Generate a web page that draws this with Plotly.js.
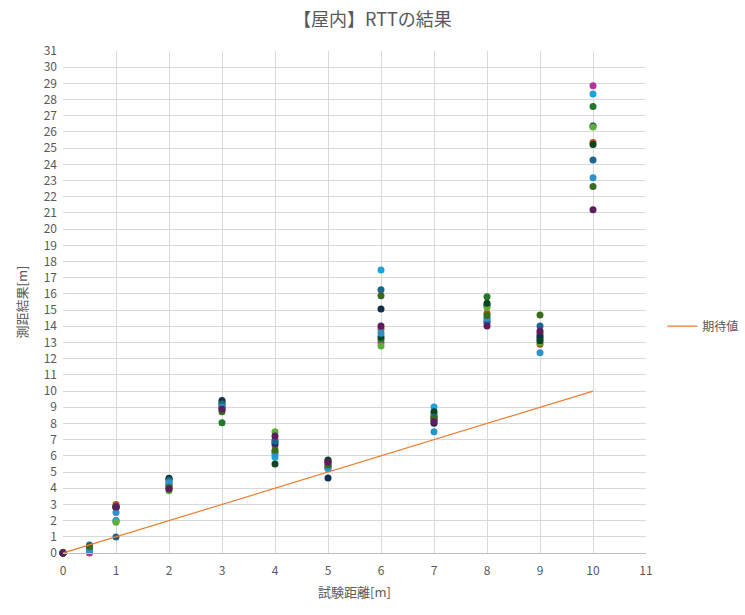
<!DOCTYPE html>
<html>
<head>
<meta charset="utf-8">
<script src="https://cdn.plot.ly/plotly-3.0.1.min.js"></script>
<style>html,body{margin:0;padding:0;background:#fff;}</style>
</head>
<body>
<div id="chart" style="width:745px;height:615px;"></div>
<script>
// Test distances [m]
const distances = [0, 0.5, 1, 2, 3, 4, 5, 6, 7, 8, 9, 10];

// Measured results per trial [m]
const trial01 = [0.00, 0.00, 3.00, 4.00, 8.85, 6.98, 5.70, 13.84, 8.30, 14.80, 12.89, 25.35];
const trial02 = [0.05, 0.10, 2.00, 4.20, 9.10, 6.63, 5.50, 12.99, 8.20, 14.20, 13.57, 28.86];
const trial03 = [-0.03, 0.20, 1.97, 4.30, 8.98, 5.91, 5.21, 17.48, 9.02, 14.45, 13.20, 28.35];
const trial04 = [0.00, 0.30, 2.80, 4.15, 8.05, 6.24, 5.65, 13.20, 8.46, 15.83, 13.45, 27.57];
const trial05 = [0.00, -0.05, 2.85, 4.62, 9.41, 6.78, 4.63, 15.07, 8.01, 15.30, 13.32, 26.37];
const trial06 = [0.01, 0.25, 1.90, 3.85, 9.05, 7.49, 5.40, 12.79, 8.60, 15.17, 13.00, 26.30];
const trial07 = [0.00, 0.35, 2.82, 4.55, 9.30, 5.50, 5.75, 13.36, 8.73, 15.42, 13.10, 25.22];
const trial08 = [0.00, 0.50, 0.99, 4.47, 9.20, 6.90, 5.30, 16.26, 8.40, 14.29, 14.02, 24.27];
const trial09 = [-0.02, 0.15, 2.50, 4.35, 9.00, 6.10, 5.25, 13.57, 7.49, 14.50, 12.37, 23.18];
const trial10 = [0.00, 0.40, 2.88, 4.05, 8.73, 6.35, 5.44, 15.89, 8.32, 14.66, 14.70, 22.63];
const trial11 = [0.00, -0.10, 2.84, 3.95, 8.90, 7.23, 5.60, 14.02, 8.11, 14.02, 13.71, 21.20];

const trials = [trial01, trial02, trial03, trial04, trial05, trial06, trial07, trial08, trial09, trial10, trial11];
const trialColors = ['#a8521c', '#b5329f', '#1ba3dc', '#23782a', '#10304f', '#5ab038', '#0f4420',
                     '#1b6690', '#2b93cc', '#3b6b1c', '#5c1c5e'];

// Expected values
const expectedX = [0, 10];
const expectedY = [0, 10];
const expectedName = '期待値';

const font = '"Noto Sans CJK JP", "Noto Sans", sans-serif';

const traces = trials.map((t, i) => ({
  type: 'scatter', mode: 'markers',
  x: distances, y: t,
  marker: {size: 7, color: trialColors[i]},
  showlegend: false, cliponaxis: false, name: 'trial' + (i + 1)
}));
traces.push({
  type: 'scatter', mode: 'lines',
  x: expectedX, y: expectedY,
  line: {color: '#ED7D31', width: 1.2},
  name: expectedName, showlegend: true
});

const layout = {
  width: 745, height: 615,
  margin: {l: 63, r: 99, t: 51, b: 62, autoexpand: false},
  paper_bgcolor: '#ffffff', plot_bgcolor: '#ffffff',
  font: {family: font, color: '#595959', size: 12},
  title: {text: '【屋内】RTTの結果', font: {family: font, size: 18, color: '#595959'},
          x: 0.5, xanchor: 'center', y: 0.968, yanchor: 'middle'},
  xaxis: {
    range: [0, 11], dtick: 1, tick0: 0,
    showgrid: true, gridcolor: '#d9d9d9', gridwidth: 1,
    zeroline: false, showline: true, linecolor: '#bfbfbf', mirror: false,
    ticks: '', ticklabelstandoff: 7, tickfont: {size: 12, color: '#595959'},
    title: {text: '試験距離[m]', font: {size: 13, color: '#595959'}, standoff: 10}
  },
  yaxis: {
    range: [0, 31], dtick: 1, tick0: 0,
    showgrid: true, gridcolor: '#d9d9d9', gridwidth: 1,
    zeroline: false, showline: false,
    ticks: '', ticklabelstandoff: 5, tickfont: {size: 12, color: '#595959'},
    title: {text: '測距結果[m]', font: {size: 13, color: '#595959'}, standoff: 13}
  },
  legend: {
    x: 1.028, xanchor: 'left', y: 0.452, yanchor: 'middle',
    font: {size: 12, color: '#595959'}, bgcolor: 'rgba(0,0,0,0)'
  }
};

Plotly.newPlot('chart', traces, layout, {displayModeBar: false, staticPlot: true});
</script>
</body>
</html>
